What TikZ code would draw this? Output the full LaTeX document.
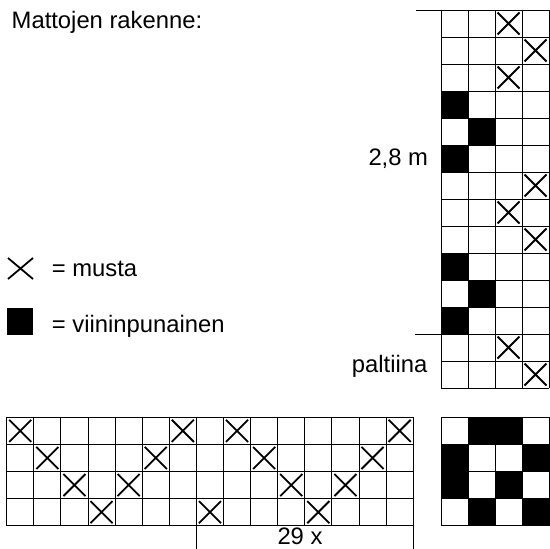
\documentclass[tikz,border=0pt]{standalone}
\usepackage{fontspec}
\setmainfont{Liberation Sans}
\begin{document}
\begin{tikzpicture}[x=1pt,y=-1pt,
  gl/.style={line width=0.9pt, draw=black},
  xm/.style={line width=1.8pt, draw=black},
  lbl/.style={inner sep=0pt, anchor=base west, font=\fontsize{23.8}{28}\selectfont}]
\useasboundingbox (0,0) rectangle (550,549);

% ---------- right vertical grid (4 x 14) ----------
\foreach \c/\r in {1/4,2/5,1/6,1/10,2/11,1/12}
  \fill ({441+27*(\c-1)},{10+27*(\r-1)}) rectangle ++(27,27);
\foreach \i in {0,...,4}
  \draw[gl] ({441+27*\i},10) -- ({441+27*\i},388);
\foreach \j in {0,...,14}
  \draw[gl] (441,{10+27*\j}) -- (549,{10+27*\j});
\foreach \c/\r in {3/1,4/2,3/3,4/7,3/8,4/9,3/13,4/14}
  \draw[xm] ({441+27*(\c-1)+2.5},{10+27*(\r-1)+2.5}) -- ++(22,22)
            ({441+27*\c-2.5},{10+27*(\r-1)+2.5}) -- ++(-22,22);
\coordinate (topL) at (416,10);
\coordinate (topR) at (549,10);
\draw[gl] (topL) -- (topR);
\coordinate (palL) at (415,334);
\coordinate (palR) at (441,334);
\draw[gl] (palL) -- (palR);

% ---------- bottom-left grid (15 x 4) ----------
\foreach \i in {0,...,15}
  \draw[gl] ({6.7+27.1*\i},417.3) -- ({6.7+27.1*\i},525.7);
\foreach \j in {0,...,4}
  \draw[gl] (6.7,{417.3+27.1*\j}) -- (413.2,{417.3+27.1*\j});
\foreach \c/\r in {1/1,7/1,9/1,15/1,2/2,6/2,10/2,14/2,3/3,5/3,11/3,13/3,4/4,8/4,12/4}
  \draw[xm] ({6.7+27.1*(\c-1)+2.5},{417.3+27.1*(\r-1)+2.5}) -- ++(22.1,22.1)
            ({6.7+27.1*\c-2.5},{417.3+27.1*(\r-1)+2.5}) -- ++(-22.1,22.1);
\coordinate (rep1a) at (196.4,525.7);
\coordinate (rep1b) at (196.4,549);
\coordinate (rep2a) at (413.2,525.7);
\coordinate (rep2b) at (413.2,549);
\draw[gl] (rep1a) -- (rep1b);
\draw[gl] (rep2a) -- (rep2b);

% ---------- bottom-right grid (4 x 4) ----------
\foreach \c/\r in {2/1,3/1,1/2,4/2,1/3,3/3,2/4,4/4}
  \fill ({441+27*(\c-1)},{417.3+27.1*(\r-1)}) rectangle ++(27,27.1);
\foreach \i in {0,...,4}
  \draw[gl] ({441+27*\i},417.3) -- ({441+27*\i},525.7);
\foreach \j in {0,...,4}
  \draw[gl] (441,{417.3+27.1*\j}) -- (549,{417.3+27.1*\j});

% ---------- legend ----------
\draw[xm] (8,258) -- (33,279) (33,258) -- (8,279);
\fill (6.7,308) rectangle (33.3,335);

% ---------- texts ----------
\node[lbl] (title) at (11.5,28.5) {Mattojen rakenne:};
\node[lbl] (len) at (368.3,165) {2,8 m};
\node[lbl] (pal) at (351.7,372) {paltiina};
\node[lbl] (rep) at (277.3,544.5) {29 x};
\node[lbl] (musta) at (51.7,276) {= musta};
\node[lbl] (viini) at (51.7,332.7) {= viininpunainen};
\end{tikzpicture}
\end{document}
